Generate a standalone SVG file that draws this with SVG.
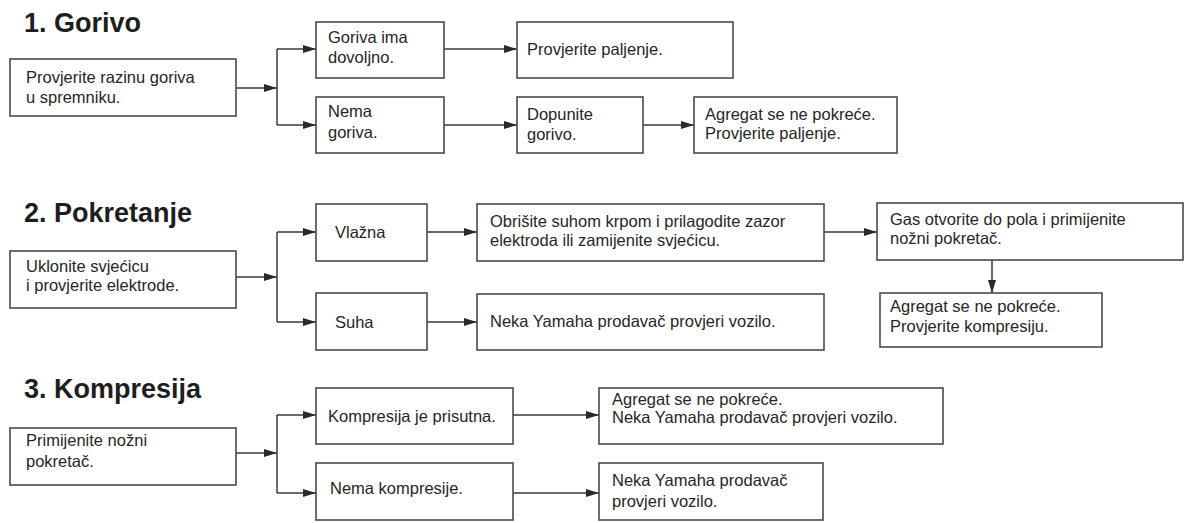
<svg xmlns="http://www.w3.org/2000/svg" width="1187" height="523" viewBox="0 0 1187 523">
<style>
.box{fill:#fff;stroke:#4a4a4a;stroke-width:1.6}
.t{font-family:"Liberation Sans",Arial,sans-serif;font-size:16.5px;fill:#262626}
.h{font-family:"Liberation Sans",Arial,sans-serif;font-size:27px;font-weight:bold;fill:#1e1e1e}
.c{fill:none;stroke:#3a3a3a;stroke-width:1.5}
</style>
<defs>
<marker id="ar" markerWidth="14" markerHeight="10" refX="13" refY="5" orient="auto" markerUnits="userSpaceOnUse">
<path d="M0,1 L13,5 L0,9 Z" fill="#2a2a2a"/>
</marker>
</defs>
<rect width="1187" height="523" fill="#fff"/>

<text class="h" x="24" y="32">1. Gorivo</text>
<text class="h" x="24" y="222">2. Pokretanje</text>
<text class="h" x="24" y="398">3. Kompresija</text>

<g id="connectors">
<path class="c" d="M236,88 H277" marker-end="url(#ar)"/>
<path class="c" d="M277,49 V125"/>
<path class="c" d="M277,49 H316" marker-end="url(#ar)"/>
<path class="c" d="M277,125 H316" marker-end="url(#ar)"/>
<path class="c" d="M444,49 H517" marker-end="url(#ar)"/>
<path class="c" d="M444,125 H517" marker-end="url(#ar)"/>
<path class="c" d="M643,125 H694" marker-end="url(#ar)"/>
<path class="c" d="M236,277 H277" marker-end="url(#ar)"/>
<path class="c" d="M277,232 V322"/>
<path class="c" d="M277,232 H316" marker-end="url(#ar)"/>
<path class="c" d="M277,322 H316" marker-end="url(#ar)"/>
<path class="c" d="M427,232 H477" marker-end="url(#ar)"/>
<path class="c" d="M427,322 H477" marker-end="url(#ar)"/>
<path class="c" d="M824,232 H877" marker-end="url(#ar)"/>
<path class="c" d="M992,260 V293" marker-end="url(#ar)"/>
<path class="c" d="M236,453 H277" marker-end="url(#ar)"/>
<path class="c" d="M277,415 V493"/>
<path class="c" d="M277,415 H316" marker-end="url(#ar)"/>
<path class="c" d="M277,493 H316" marker-end="url(#ar)"/>
<path class="c" d="M513,415 H599" marker-end="url(#ar)"/>
<path class="c" d="M513,493 H599" marker-end="url(#ar)"/>
</g>

<g id="n1a"><rect class="box" x="10" y="59" width="226" height="57"/>
<text class="t" x="26" y="83">Provjerite razinu goriva</text><text class="t" x="26" y="103">u spremniku.</text></g>
<g id="n1b"><rect class="box" x="316" y="22" width="128" height="56"/>
<text class="t" x="328" y="43">Goriva ima</text><text class="t" x="328" y="63">dovoljno.</text></g>
<g id="n1c"><rect class="box" x="316" y="97" width="128" height="56"/>
<text class="t" x="328" y="117">Nema</text><text class="t" x="328" y="138">goriva.</text></g>
<g id="n1d"><rect class="box" x="517" y="22" width="216" height="56"/>
<text class="t" x="527" y="55">Provjerite paljenje.</text></g>
<g id="n1e"><rect class="box" x="517" y="97" width="126" height="56"/>
<text class="t" x="527" y="120">Dopunite</text><text class="t" x="527" y="140">gorivo.</text></g>
<g id="n1f"><rect class="box" x="694" y="97" width="203" height="56"/>
<text class="t" x="705" y="120">Agregat se ne pokreće.</text><text class="t" x="705" y="139">Provjerite paljenje.</text></g>

<g id="n2a"><rect class="box" x="10" y="251" width="226" height="57"/>
<text class="t" x="26" y="272">Uklonite svjećicu</text><text class="t" x="26" y="291">i provjerite elektrode.</text></g>
<g id="n2b"><rect class="box" x="316" y="204" width="111" height="57"/>
<text class="t" x="335" y="238">Vlažna</text></g>
<g id="n2c"><rect class="box" x="316" y="293" width="111" height="57"/>
<text class="t" x="335" y="328">Suha</text></g>
<g id="n2d"><rect class="box" x="477" y="204" width="347" height="57"/>
<text class="t" x="490" y="227">Obrišite suhom krpom i prilagodite zazor</text><text class="t" x="490" y="246">elektroda ili zamijenite svjećicu.</text></g>
<g id="n2e"><rect class="box" x="477" y="294" width="347" height="56"/>
<text class="t" x="490" y="327">Neka Yamaha prodavač provjeri vozilo.</text></g>
<g id="n2f"><rect class="box" x="877" y="203" width="306" height="57"/>
<text class="t" x="890" y="225">Gas otvorite do pola i primijenite</text><text class="t" x="890" y="244">nožni pokretač.</text></g>
<g id="n2g"><rect class="box" x="880" y="293" width="222" height="54"/>
<text class="t" x="890" y="312">Agregat se ne pokreće.</text><text class="t" x="890" y="332">Provjerite kompresiju.</text></g>

<g id="n3a"><rect class="box" x="10" y="428" width="226" height="57"/>
<text class="t" x="26" y="446">Primijenite nožni</text><text class="t" x="26" y="467">pokretač.</text></g>
<g id="n3b"><rect class="box" x="316" y="388" width="197" height="56"/>
<text class="t" x="328" y="422">Kompresija je prisutna.</text></g>
<g id="n3c"><rect class="box" x="316" y="463" width="197" height="57"/>
<text class="t" x="330" y="494">Nema kompresije.</text></g>
<g id="n3d"><rect class="box" x="599" y="388" width="344" height="56"/>
<text class="t" x="612" y="405">Agregat se ne pokreće.</text><text class="t" x="612" y="423">Neka Yamaha prodavač provjeri vozilo.</text></g>
<g id="n3e"><rect class="box" x="599" y="463" width="224" height="57"/>
<text class="t" x="612" y="486">Neka Yamaha prodavač</text><text class="t" x="612" y="507">provjeri vozilo.</text></g>
</svg>
